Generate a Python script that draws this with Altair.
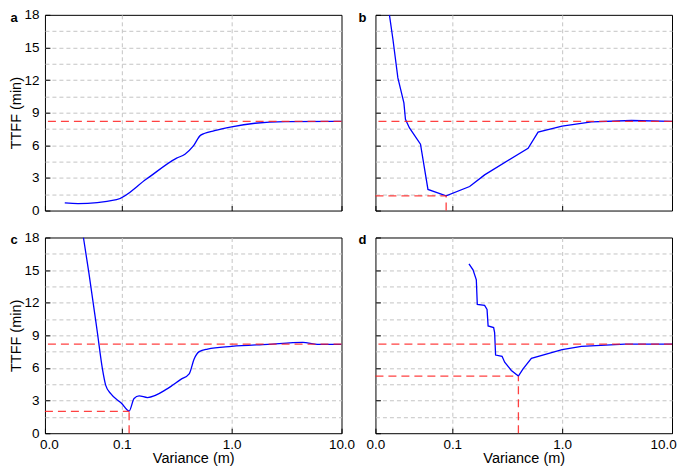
import altair as alt
import pandas as pd

FONT = "Liberation Sans"
BLUE = "#0000ff"
RED = "#ff2020"
GRID = "#c4c4c4"

X_DOMAIN = [0.02, 10.0]
X_TICKS = [0.02, 0.1, 1.0, 10.0]
Y_DOMAIN = [0, 18]
Y_TICKS = [0, 1.5, 3, 4.5, 6, 7.5, 9, 10.5, 12, 13.5, 15, 16.5, 18]
REF_TTFF = 8.2

# panel a
a_var = [0.0303, 0.040, 0.0897, 0.168, 0.316, 0.376, 0.449, 0.523, 0.70, 1.0, 1.63, 3.07, 10.0]
a_ttff = [0.70, 0.64, 1.0, 2.9, 4.82, 5.18, 5.94, 6.94, 7.35, 7.7, 8.03, 8.18, 8.2]

# panel b
b_var = [0.0268, 0.0288, 0.032, 0.0363, 0.0375, 0.0408, 0.0514, 0.0601, 0.088, 0.1439,
         0.197, 0.49, 0.604, 1.0, 1.85, 4.28, 10.0]
b_ttff = [18.0, 15.8, 12.2, 9.9, 8.4, 7.6, 6.1, 1.94, 1.35, 2.21,
          3.28, 5.73, 7.22, 7.76, 8.16, 8.28, 8.2]
b_min = [0.088, 1.35]

# panel c
c_var = [0.0448, 0.0503, 0.060, 0.0667, 0.0715, 0.0794, 0.1, 0.1167, 0.1295, 0.1439, 0.1716,
         0.261, 0.345, 0.411, 0.456, 0.507, 0.604, 1.0, 2.13, 4.44, 6.08, 10.0]
c_ttff = [18.0, 14.7, 9.26, 5.92, 4.4, 3.64, 2.73, 2.04, 3.19, 3.43, 3.28,
          4.1, 4.95, 5.46, 6.83, 7.5, 7.74, 7.98, 8.17, 8.35, 8.17, 8.17]
c_min = [0.1167, 2.0]

# panel d
d_var = [0.142, 0.1545, 0.1656, 0.169, 0.197, 0.2073, 0.212, 0.238, 0.243, 0.248, 0.284,
         0.300, 0.345, 0.40, 0.441, 0.525, 1.0, 1.5, 3.72, 10.0]
d_ttff = [15.57, 15.02, 14.11, 11.84, 11.75, 11.38, 9.87, 9.72, 9.26, 7.19, 7.07,
          6.53, 5.77, 5.25, 5.92, 6.89, 7.68, 7.98, 8.19, 8.19]
d_min = [0.40, 5.25]

W, H = 297, 196


def encodings(show_x, show_y, fix_right):
    x_kw = dict(
        values=X_TICKS, format=".1f", grid=True, gridDash=[4, 3], gridColor=GRID, gridWidth=1,
        gridOpacity={"condition": {"test": "datum.value <= 0.021 || datum.value >= 9.9", "value": 0}, "value": 1},
        domain=False, offset=-5, tickSize=5, tickColor="#000", tickWidth=1,
        labels=show_x, labelFontSize=13.5, labelColor="#000", labelPadding=4, labelFont=FONT,
        labelFlush=False, labelOverlap=False,
        titleFont=FONT, titleFontSize=14.5, titleFontWeight="normal", titleColor="#000", titlePadding=1,
    )
    if fix_right:
        x_kw["labelOffset"] = {"condition": {"test": "datum.value >= 9.9", "value": -9}, "value": 0}
    else:
        x_kw["labelOffset"] = {"condition": {"test": "datum.value <= 0.021", "value": 4}, "value": 0}
    y_kw = dict(
        values=Y_TICKS, grid=True, gridDash=[4, 3], gridColor=GRID, gridWidth=1,
        gridOpacity={"condition": {"test": "datum.value <= 0 || datum.value >= 18", "value": 0}, "value": 1},
        domain=False, offset=-5, tickSize=5, tickColor="#000", tickWidth=1,
        tickOpacity={"condition": {"test": "datum.value % 3 === 0", "value": 1}, "value": 0},
        labels=show_y, labelExpr="datum.value % 3 === 0 ? format(datum.value, 'd') : ''",
        labelFontSize=13.5, labelColor="#000", labelPadding=6, labelFont=FONT, labelOverlap=False,
        titleFont=FONT, titleFontSize=14.5, titleFontWeight="normal", titleColor="#000", titlePadding=0,
    )
    xs = alt.Scale(type="log", domain=X_DOMAIN, nice=False)
    ys = alt.Scale(domain=Y_DOMAIN, nice=False, zero=False)
    xt = "Variance (m)" if show_x else None
    yt = "TTFF (min)" if show_y else None
    X = lambda f: alt.X(f, scale=xs, axis=alt.Axis(**x_kw), title=xt)
    Y = lambda f: alt.Y(f, scale=ys, axis=alt.Axis(**y_kw), title=yt)
    return X, Y


def make_panel(tag, xs_, ys_, interp, mins, show_x, show_y, tag_dx, fix_right=False):
    X, Y = encodings(show_x, show_y, fix_right)
    df = pd.DataFrame({"var": xs_, "ttff": ys_})
    line = alt.Chart(df).mark_line(color=BLUE, strokeWidth=1.3, interpolate=interp, clip=True).encode(
        x=X("var:Q"), y=Y("ttff:Q"))
    ref = alt.Chart(pd.DataFrame({"ttff": [REF_TTFF]})).mark_rule(
        color=RED, strokeDash=[8, 5], strokeWidth=1.3, opacity=0.85).encode(y=Y("ttff:Q"))
    layers = [ref]
    if mins is not None:
        mdf = pd.DataFrame({"var": [X_DOMAIN[0]], "var2": [mins[0]],
                            "ttff": [mins[1]], "ttff0": [Y_DOMAIN[0]]})
        hz = alt.Chart(mdf).mark_rule(color=RED, strokeDash=[8, 5], strokeWidth=1.3, opacity=0.85).encode(
            x=X("var:Q"), x2="var2:Q", y=Y("ttff:Q"))
        vt = alt.Chart(mdf).mark_rule(color=RED, strokeDash=[8, 5], strokeWidth=1.3, opacity=0.85).encode(
            x=X("var2:Q"), y=Y("ttff0:Q"), y2="ttff:Q")
        layers += [hz, vt]
    label = alt.Chart(pd.DataFrame({"tag": [tag]})).mark_text(
        font=FONT, fontSize=13, fontWeight="bold", color="#000", align="center", baseline="middle").encode(
        x=alt.value(tag_dx), y=alt.value(3), text="tag:N")
    return alt.layer(line, *layers, label).properties(width=W, height=H)


pa = make_panel("a", a_var, a_ttff, "monotone", None, False, True, -31)
pb = make_panel("b", b_var, b_ttff, "linear", b_min, False, False, -13)
pc = make_panel("c", c_var, c_ttff, "monotone", c_min, True, True, -31)
pdd = make_panel("d", d_var, d_ttff, "linear", d_min, True, False, -13, fix_right=True)

chart = alt.concat(pa, pb, pc, pdd, columns=2, spacing={"row": 27, "column": 34}, bounds="flush").properties(
    padding={"left": 0, "top": -1.5, "right": 0, "bottom": 0}
).configure(font=FONT).configure_view(stroke="#000", strokeWidth=1)

chart.save("out.html", embed_options={"renderer": "svg", "actions": False})
